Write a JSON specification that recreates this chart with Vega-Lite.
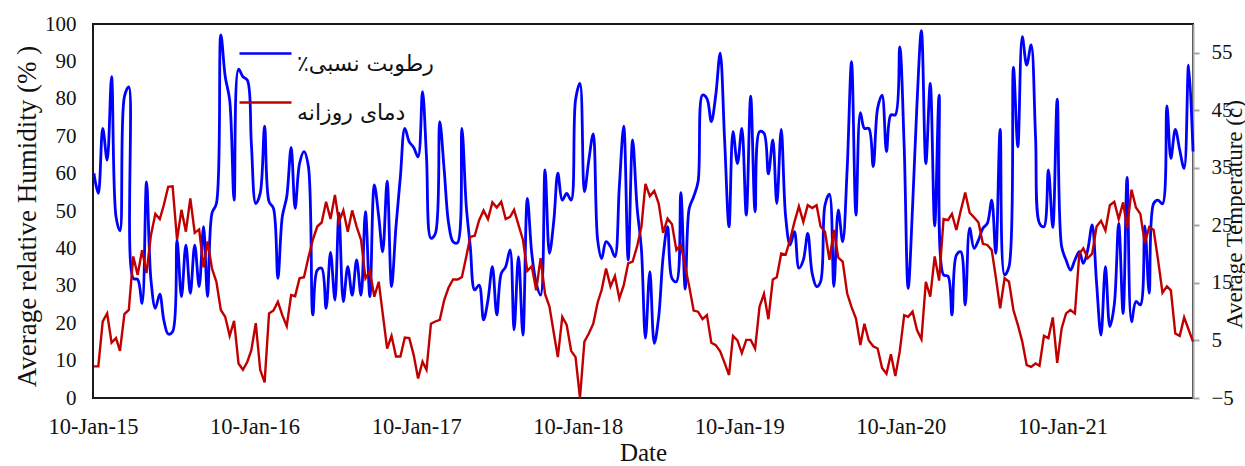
{
  "$schema": "https://vega.github.io/schema/vega-lite/v6.json",
  "width": 1100,
  "height": 374,
  "autosize": {"type": "none"},
  "padding": {"left": 93, "top": 24, "right": 52, "bottom": 68},
  "background": "white",
  "config": {
    "font": "Liberation Serif",
    "view": {"stroke": "#1a1a1a", "strokeWidth": 2},
    "axis": {"grid": false, "labelColor": "#111", "titleColor": "#111", "titleFontWeight": "normal", "labelFont": "Liberation Serif", "titleFont": "Liberation Serif"}
  },
  "data": {"values": [
{"date":"2015-01-12","humidity":60.1,"temperature":0.5},
{"date":"2015-01-22","humidity":54.7,"temperature":0.5},
{"date":"2015-02-01","humidity":72.1,"temperature":8.3},
{"date":"2015-02-11","humidity":63.6,"temperature":9.7},
{"date":"2015-02-21","humidity":85.9,"temperature":4.6},
{"date":"2015-03-03","humidity":48.5,"temperature":5.4},
{"date":"2015-03-12","humidity":44.7,"temperature":3.2},
{"date":"2015-03-22","humidity":80.6,"temperature":9.6},
{"date":"2015-04-01","humidity":83.2,"temperature":10.3},
{"date":"2015-04-11","humidity":32,"temperature":19.6},
{"date":"2015-04-21","humidity":31.7,"temperature":16.4},
{"date":"2015-05-01","humidity":25.3,"temperature":20.7},
{"date":"2015-05-11","humidity":57.8,"temperature":16.7},
{"date":"2015-05-21","humidity":31.6,"temperature":23.3},
{"date":"2015-05-31","humidity":24,"temperature":27},
{"date":"2015-06-10","humidity":27.8,"temperature":26.1},
{"date":"2015-06-19","humidity":20.9,"temperature":28.5},
{"date":"2015-06-29","humidity":17.1,"temperature":31.7},
{"date":"2015-07-09","humidity":17.7,"temperature":31.8},
{"date":"2015-07-19","humidity":42.2,"temperature":22.5},
{"date":"2015-07-29","humidity":27.1,"temperature":27.7},
{"date":"2015-08-08","humidity":40.9,"temperature":23.9},
{"date":"2015-08-18","humidity":28,"temperature":29.7},
{"date":"2015-08-28","humidity":40.9,"temperature":23.7},
{"date":"2015-09-07","humidity":29.8,"temperature":24.3},
{"date":"2015-09-17","humidity":45.8,"temperature":17.7},
{"date":"2015-09-26","humidity":27.1,"temperature":22.2},
{"date":"2015-10-06","humidity":49.4,"temperature":17.5},
{"date":"2015-10-16","humidity":52,"temperature":15.2},
{"date":"2015-10-26","humidity":97.1,"temperature":10.3},
{"date":"2015-11-05","humidity":85.9,"temperature":9.1},
{"date":"2015-11-15","humidity":79.7,"temperature":5.8},
{"date":"2015-11-25","humidity":52.9,"temperature":8.4},
{"date":"2015-12-05","humidity":87.9,"temperature":1.0},
{"date":"2015-12-15","humidity":85.9,"temperature":-0.1},
{"date":"2015-12-25","humidity":85,"temperature":1.3},
{"date":"2016-01-03","humidity":68.1,"temperature":3.3},
{"date":"2016-01-13","humidity":52,"temperature":8.0},
{"date":"2016-01-23","humidity":54.7,"temperature":-0.1},
{"date":"2016-02-02","humidity":72.7,"temperature":-2.3},
{"date":"2016-02-12","humidity":52.5,"temperature":9.7},
{"date":"2016-02-22","humidity":50.7,"temperature":10.2},
{"date":"2016-03-03","humidity":32,"temperature":11.7},
{"date":"2016-03-13","humidity":48.5,"temperature":9.4},
{"date":"2016-03-23","humidity":53.8,"temperature":7.5},
{"date":"2016-04-02","humidity":67,"temperature":12.9},
{"date":"2016-04-11","humidity":50.7,"temperature":12.7},
{"date":"2016-04-21","humidity":62.7,"temperature":15.8},
{"date":"2016-05-01","humidity":65.9,"temperature":16},
{"date":"2016-05-11","humidity":61.9,"temperature":19.4},
{"date":"2016-05-21","humidity":22.2,"temperature":22.5},
{"date":"2016-05-31","humidity":34.2,"temperature":24.8},
{"date":"2016-06-10","humidity":34.7,"temperature":25.5},
{"date":"2016-06-20","humidity":24,"temperature":29.1},
{"date":"2016-06-30","humidity":38.9,"temperature":26.1},
{"date":"2016-07-10","humidity":26.2,"temperature":30.3},
{"date":"2016-07-19","humidity":49.4,"temperature":25.6},
{"date":"2016-07-29","humidity":25.8,"temperature":27.6},
{"date":"2016-08-08","humidity":35.1,"temperature":23.9},
{"date":"2016-08-18","humidity":27.5,"temperature":27.6},
{"date":"2016-08-28","humidity":36.9,"temperature":24.8},
{"date":"2016-09-07","humidity":27.5,"temperature":22.5},
{"date":"2016-09-17","humidity":49.8,"temperature":15.8},
{"date":"2016-09-27","humidity":27.1,"temperature":17.1},
{"date":"2016-10-07","humidity":57,"temperature":12.6},
{"date":"2016-10-17","humidity":48.5,"temperature":15.2},
{"date":"2016-10-26","humidity":39.1,"temperature":9.7},
{"date":"2016-11-05","humidity":58,"temperature":3.6},
{"date":"2016-11-15","humidity":29.8,"temperature":5.8},
{"date":"2016-11-25","humidity":45.8,"temperature":2.2},
{"date":"2016-12-05","humidity":59.2,"temperature":2.2},
{"date":"2016-12-15","humidity":72.1,"temperature":5.5},
{"date":"2016-12-25","humidity":68.5,"temperature":5.4},
{"date":"2017-01-04","humidity":67,"temperature":2.5},
{"date":"2017-01-14","humidity":64.5,"temperature":-1.6},
{"date":"2017-01-24","humidity":81.9,"temperature":1.3},
{"date":"2017-02-02","humidity":64.5,"temperature":-0.1},
{"date":"2017-02-12","humidity":42.7,"temperature":7.9},
{"date":"2017-02-22","humidity":44,"temperature":8.3},
{"date":"2017-03-04","humidity":73.9,"temperature":8.6},
{"date":"2017-03-14","humidity":61,"temperature":12},
{"date":"2017-03-24","humidity":46.7,"temperature":14.2},
{"date":"2017-04-03","humidity":41.8,"temperature":15.6},
{"date":"2017-04-13","humidity":41.5,"temperature":15.6},
{"date":"2017-04-23","humidity":72.1,"temperature":16},
{"date":"2017-05-03","humidity":51.2,"temperature":19.6},
{"date":"2017-05-12","humidity":40.5,"temperature":23},
{"date":"2017-05-22","humidity":28.9,"temperature":23.2},
{"date":"2017-06-01","humidity":30.2,"temperature":25.9},
{"date":"2017-06-11","humidity":20.9,"temperature":27.6},
{"date":"2017-06-21","humidity":26.2,"temperature":26.1},
{"date":"2017-07-01","humidity":35.1,"temperature":29},
{"date":"2017-07-11","humidity":22.2,"temperature":28.1},
{"date":"2017-07-21","humidity":33.3,"temperature":29.1},
{"date":"2017-07-31","humidity":35.1,"temperature":26.1},
{"date":"2017-08-10","humidity":39.6,"temperature":26.5},
{"date":"2017-08-19","humidity":18.2,"temperature":27.7},
{"date":"2017-08-29","humidity":37.8,"temperature":25.1},
{"date":"2017-09-08","humidity":16.8,"temperature":22.5},
{"date":"2017-09-18","humidity":53.4,"temperature":17.1},
{"date":"2017-09-28","humidity":38.7,"temperature":17.9},
{"date":"2017-10-08","humidity":30.7,"temperature":13.7},
{"date":"2017-10-18","humidity":27.5,"temperature":19.3},
{"date":"2017-10-28","humidity":61,"temperature":13.1},
{"date":"2017-11-07","humidity":38.7,"temperature":10.9},
{"date":"2017-11-17","humidity":47.6,"temperature":6.2},
{"date":"2017-11-26","humidity":60.1,"temperature":2.1},
{"date":"2017-12-06","humidity":52.9,"temperature":9.1},
{"date":"2017-12-16","humidity":54.7,"temperature":7.7},
{"date":"2017-12-26","humidity":52.9,"temperature":3.2},
{"date":"2018-01-05","humidity":79.7,"temperature":2.1},
{"date":"2018-01-15","humidity":84.1,"temperature":-5.0},
{"date":"2018-01-25","humidity":55.2,"temperature":4.8},
{"date":"2018-02-04","humidity":63.6,"temperature":6.2},
{"date":"2018-02-14","humidity":70.6,"temperature":7.9},
{"date":"2018-02-24","humidity":42.2,"temperature":11.6},
{"date":"2018-03-05","humidity":37.3,"temperature":13.8},
{"date":"2018-03-15","humidity":41.8,"temperature":17.5},
{"date":"2018-03-25","humidity":40.5,"temperature":14.4},
{"date":"2018-04-04","humidity":37.8,"temperature":16.2},
{"date":"2018-04-14","humidity":56.5,"temperature":12.3},
{"date":"2018-04-24","humidity":72.7,"temperature":14.6},
{"date":"2018-05-04","humidity":36.9,"temperature":18.4},
{"date":"2018-05-14","humidity":69,"temperature":18.7},
{"date":"2018-05-24","humidity":51.2,"temperature":21.3},
{"date":"2018-06-03","humidity":39.6,"temperature":24.8},
{"date":"2018-06-12","humidity":16,"temperature":32.2},
{"date":"2018-06-22","humidity":33.8,"temperature":30.1},
{"date":"2018-07-02","humidity":14.6,"temperature":31},
{"date":"2018-07-12","humidity":21.7,"temperature":28.8},
{"date":"2018-07-22","humidity":37.8,"temperature":23.7},
{"date":"2018-08-01","humidity":45.8,"temperature":26.2},
{"date":"2018-08-11","humidity":32,"temperature":25.2},
{"date":"2018-08-21","humidity":31.1,"temperature":20.7},
{"date":"2018-08-31","humidity":54.9,"temperature":21.6},
{"date":"2018-09-10","humidity":29.1,"temperature":17.8},
{"date":"2018-09-19","humidity":50.7,"temperature":14.4},
{"date":"2018-09-29","humidity":53.8,"temperature":10.2},
{"date":"2018-10-09","humidity":57.8,"temperature":10},
{"date":"2018-10-19","humidity":81,"temperature":8.7},
{"date":"2018-10-29","humidity":80.1,"temperature":9.4},
{"date":"2018-11-08","humidity":73.9,"temperature":4.6},
{"date":"2018-11-18","humidity":81,"temperature":4.2},
{"date":"2018-11-28","humidity":92.2,"temperature":3.1},
{"date":"2018-12-08","humidity":69,"temperature":1.1},
{"date":"2018-12-18","humidity":45.8,"temperature":-1},
{"date":"2018-12-27","humidity":71.2,"temperature":5.8},
{"date":"2019-01-06","humidity":62.7,"temperature":5},
{"date":"2019-01-16","humidity":72.1,"temperature":2.8},
{"date":"2019-01-26","humidity":48.9,"temperature":5.1},
{"date":"2019-02-05","humidity":80.7,"temperature":5.1},
{"date":"2019-02-15","humidity":49.8,"temperature":3.6},
{"date":"2019-02-25","humidity":71.2,"temperature":10.9},
{"date":"2019-03-07","humidity":70.8,"temperature":13.1},
{"date":"2019-03-17","humidity":59.9,"temperature":8.7},
{"date":"2019-03-27","humidity":69,"temperature":15.6},
{"date":"2019-04-05","humidity":52,"temperature":16},
{"date":"2019-04-15","humidity":71.8,"temperature":20.1},
{"date":"2019-04-25","humidity":48.5,"temperature":19.9},
{"date":"2019-05-05","humidity":40.9,"temperature":22.5},
{"date":"2019-05-15","humidity":44.5,"temperature":25.6},
{"date":"2019-05-25","humidity":34.7,"temperature":28.3},
{"date":"2019-06-04","humidity":36.9,"temperature":25.6},
{"date":"2019-06-14","humidity":44,"temperature":28.5},
{"date":"2019-06-24","humidity":33.3,"temperature":28},
{"date":"2019-07-04","humidity":29.8,"temperature":28.5},
{"date":"2019-07-13","humidity":31.1,"temperature":24.8},
{"date":"2019-07-23","humidity":51.6,"temperature":23.9},
{"date":"2019-08-02","humidity":54.5,"temperature":19},
{"date":"2019-08-12","humidity":29.8,"temperature":24.2},
{"date":"2019-08-22","humidity":50.3,"temperature":19.4},
{"date":"2019-09-01","humidity":41.8,"temperature":18.7},
{"date":"2019-09-11","humidity":61,"temperature":13.2},
{"date":"2019-09-21","humidity":89.9,"temperature":10.8},
{"date":"2019-10-01","humidity":48.9,"temperature":8.8},
{"date":"2019-10-11","humidity":76.3,"temperature":4.2},
{"date":"2019-10-20","humidity":72.1,"temperature":7.9},
{"date":"2019-10-30","humidity":72.1,"temperature":5},
{"date":"2019-11-09","humidity":61.9,"temperature":4},
{"date":"2019-11-19","humidity":77.5,"temperature":3.6},
{"date":"2019-11-29","humidity":81,"temperature":0.2},
{"date":"2019-12-09","humidity":65.9,"temperature":-0.8},
{"date":"2019-12-19","humidity":75.7,"temperature":2.6},
{"date":"2019-12-29","humidity":75.7,"temperature":-1.2},
{"date":"2020-01-08","humidity":93.9,"temperature":3.1},
{"date":"2020-01-18","humidity":67.2,"temperature":9.4},
{"date":"2020-01-27","humidity":29.3,"temperature":9.1},
{"date":"2020-02-06","humidity":51.2,"temperature":10},
{"date":"2020-02-16","humidity":78.8,"temperature":6.8},
{"date":"2020-02-26","humidity":98.2,"temperature":5.2},
{"date":"2020-03-07","humidity":62.7,"temperature":15.2},
{"date":"2020-03-17","humidity":84.1,"temperature":12.6},
{"date":"2020-03-27","humidity":46,"temperature":19.6},
{"date":"2020-04-06","humidity":81,"temperature":15.4},
{"date":"2020-04-16","humidity":32.9,"temperature":26.1},
{"date":"2020-04-26","humidity":32.6,"temperature":25.9},
{"date":"2020-05-05","humidity":22.2,"temperature":27},
{"date":"2020-05-15","humidity":38.2,"temperature":24.2},
{"date":"2020-05-25","humidity":39.1,"temperature":27.6},
{"date":"2020-06-04","humidity":24.9,"temperature":30.7},
{"date":"2020-06-14","humidity":45.4,"temperature":27.2},
{"date":"2020-06-24","humidity":40,"temperature":26.4},
{"date":"2020-07-04","humidity":42.2,"temperature":25.5},
{"date":"2020-07-14","humidity":45.4,"temperature":21.8},
{"date":"2020-07-24","humidity":46.7,"temperature":21.6},
{"date":"2020-08-03","humidity":52.9,"temperature":20.7},
{"date":"2020-08-12","humidity":38.7,"temperature":16.1},
{"date":"2020-08-22","humidity":71.8,"temperature":10.6},
{"date":"2020-09-01","humidity":32.9,"temperature":15.8},
{"date":"2020-09-11","humidity":35.1,"temperature":15.2},
{"date":"2020-09-21","humidity":88.4,"temperature":10.3},
{"date":"2020-10-01","humidity":67.2,"temperature":7.7},
{"date":"2020-10-11","humidity":96.6,"temperature":4.8},
{"date":"2020-10-21","humidity":89,"temperature":0.7},
{"date":"2020-10-31","humidity":94.4,"temperature":0.4},
{"date":"2020-11-10","humidity":69.9,"temperature":1.0},
{"date":"2020-11-19","humidity":46.7,"temperature":0.6},
{"date":"2020-11-29","humidity":45.8,"temperature":5.8},
{"date":"2020-12-09","humidity":61,"temperature":5.4},
{"date":"2020-12-19","humidity":45.6,"temperature":9},
{"date":"2020-12-29","humidity":79.9,"temperature":1.1},
{"date":"2021-01-08","humidity":40.5,"temperature":7.1},
{"date":"2021-01-18","humidity":36.9,"temperature":9.7},
{"date":"2021-01-28","humidity":34.2,"temperature":10.3},
{"date":"2021-02-07","humidity":36.9,"temperature":9.7},
{"date":"2021-02-17","humidity":39.1,"temperature":20.1},
{"date":"2021-02-26","humidity":36,"temperature":21},
{"date":"2021-03-08","humidity":39.6,"temperature":19.3},
{"date":"2021-03-18","humidity":46.3,"temperature":20.1},
{"date":"2021-03-28","humidity":30.7,"temperature":24.8},
{"date":"2021-04-07","humidity":16.8,"temperature":25.8},
{"date":"2021-04-17","humidity":35.1,"temperature":24.1},
{"date":"2021-04-27","humidity":19.1,"temperature":28.5},
{"date":"2021-05-07","humidity":24.9,"temperature":29.1},
{"date":"2021-05-17","humidity":46.7,"temperature":26.1},
{"date":"2021-05-27","humidity":22.6,"temperature":29},
{"date":"2021-06-05","humidity":59,"temperature":24.5},
{"date":"2021-06-15","humidity":20.4,"temperature":31.2},
{"date":"2021-06-25","humidity":25.8,"temperature":28.1},
{"date":"2021-07-05","humidity":24.9,"temperature":27},
{"date":"2021-07-15","humidity":46,"temperature":21.9},
{"date":"2021-07-25","humidity":28,"temperature":24.7},
{"date":"2021-08-04","humidity":52,"temperature":24.2},
{"date":"2021-08-14","humidity":52.9,"temperature":19},
{"date":"2021-08-24","humidity":51.9,"temperature":13.3},
{"date":"2021-09-03","humidity":78.1,"temperature":14.4},
{"date":"2021-09-12","humidity":64.1,"temperature":13.7},
{"date":"2021-09-22","humidity":71.8,"temperature":6.2},
{"date":"2021-10-02","humidity":66.3,"temperature":5.8},
{"date":"2021-10-12","humidity":61.4,"temperature":9},
{"date":"2021-10-22","humidity":89,"temperature":6.9},
{"date":"2021-11-01","humidity":65.9,"temperature":4.8}
  ]},
  "encoding": {
    "x": {
      "field": "date",
      "type": "temporal",
      "scale": {"type": "utc", "domain": [{"year": 2015, "month": 1, "date": 10, "utc": true}, {"year": 2021, "month": 11, "date": 1, "utc": true}]},
      "axis": {
        "values": [
          {"year": 2015, "month": 1, "date": 10, "utc": true},
          {"year": 2016, "month": 1, "date": 10, "utc": true},
          {"year": 2017, "month": 1, "date": 10, "utc": true},
          {"year": 2018, "month": 1, "date": 10, "utc": true},
          {"year": 2019, "month": 1, "date": 10, "utc": true},
          {"year": 2020, "month": 1, "date": 10, "utc": true},
          {"year": 2021, "month": 1, "date": 10, "utc": true}
        ],
        "format": "%d-%b-%y",
        "ticks": false,
        "domain": false,
        "labelFontSize": 22.5,
        "labelBaseline": "alphabetic",
        "labelPadding": 35,
        "labelFlush": false,
        "labelOverlap": false,
        "title": "Date",
        "titleFontSize": 25,
        "titleBaseline": "alphabetic",
        "titleX": 550,
        "titleY": 62
      }
    }
  },
  "layer": [
    {
      "mark": {"type": "line", "strokeWidth": 2.8, "interpolate": "catmull-rom"},
      "encoding": {
        "y": {
          "field": "humidity",
          "type": "quantitative",
          "scale": {"domain": [0, 100], "nice": false, "zero": false},
          "axis": {
            "orient": "left",
            "values": [0, 10, 20, 30, 40, 50, 60, 70, 80, 90, 100],
            "ticks": false,
            "domain": false,
            "labelFontSize": 21,
            "labelPadding": 17,
            "title": "Average relative Humidity (% )",
            "titleFontSize": 27,
            "titleAngle": -90,
            "titleBaseline": "alphabetic",
            "titleAlign": "center",
            "titleX": -58,
            "titleY": 192
          }
        },
        "color": {
          "datum": "رطوبت نسبی٪‏",
          "type": "nominal",
          "scale": {"domain": ["رطوبت نسبی٪‏", "دمای روزانه‏"], "range": ["#0000ff", "#c00000"]},
          "legend": {
            "orient": "none",
            "legendX": 145,
            "legendY": 2,
            "title": null,
            "padding": 0,
            "symbolType": "stroke",
            "symbolSize": 2704,
            "symbolStrokeWidth": 2.6,
            "labelFont": "DejaVu Sans",
            "labelFontSize": 22,
            "labelColor": "#111",
            "labelOffset": 4,
            "labelBaseline": "top",
            "rowPadding": -3
          }
        }
      }
    },
    {
      "mark": {"type": "line", "strokeWidth": 2.4},
      "encoding": {
        "y": {
          "field": "temperature",
          "type": "quantitative",
          "scale": {"domain": [-5, 60], "nice": false, "zero": false},
          "axis": {
            "orient": "right",
            "values": [-5, 5, 15, 25, 35, 45, 55],
            "ticks": true,
            "tickSize": 6,
            "tickWidth": 2,
            "tickColor": "#a6a6a6",
            "domain": true,
            "domainColor": "#a6a6a6",
            "domainWidth": 2,
            "labelFontSize": 21,
            "labelPadding": 12,
            "title": "Average Temperature (c)",
            "titleFontSize": 23,
            "titleAngle": -90,
            "titleBaseline": "alphabetic",
            "titleAlign": "center",
            "titleX": 48,
            "titleY": 190
          }
        },
        "color": {"datum": "دمای روزانه‏", "type": "nominal"}
      }
    }
  ],
  "resolve": {"scale": {"y": "independent"}}
}
